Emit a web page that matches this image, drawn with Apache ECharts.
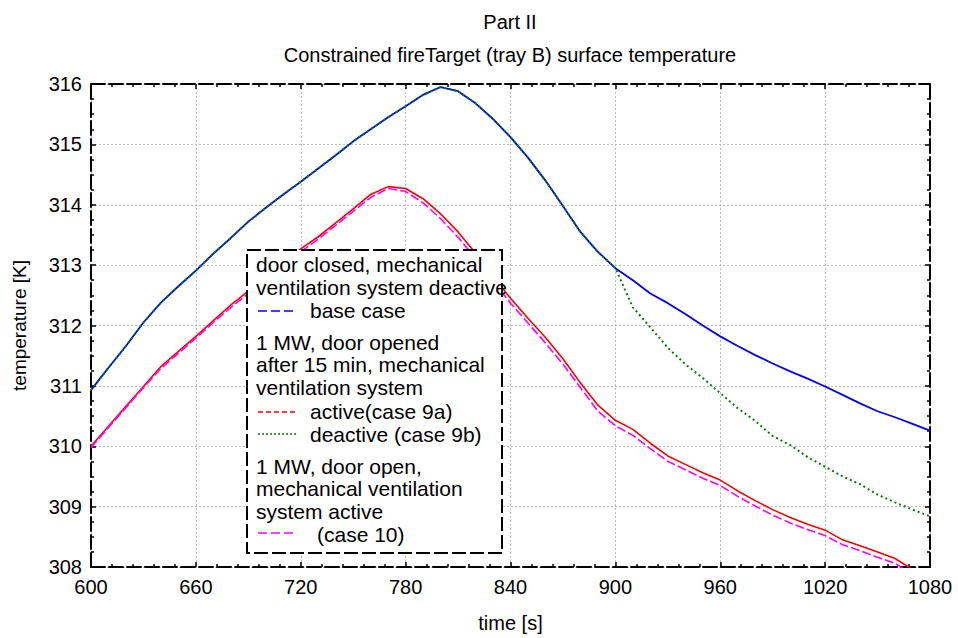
<!DOCTYPE html>
<html lang="en">
<head>
  <meta charset="UTF-8">
  <title>Constrained fireTarget surface temperature</title>
  <style>
    html, body { margin: 0; padding: 0; background: #fff; }
    #main { width: 958px; height: 638px; }
  </style>
</head>
<body>
<div id="main"></div>
<script src="https://cdn.jsdelivr.net/npm/echarts@6/dist/echarts.min.js"></script>
<script>
  // time axis shared by all curves [s]
  var timeSec = [600, 610, 620, 630, 640, 650, 660, 670, 680, 690,
                 700, 710, 720, 730, 740, 750, 760, 770, 780, 790,
                 800, 810, 820, 830, 840, 850, 860, 870, 880, 890,
                 900, 910, 920, 930, 940, 950, 960, 970, 980, 990,
                 1000, 1010, 1020, 1030, 1040, 1050, 1060, 1070, 1080];

  // base case: door closed, ventilation deactive
  var tempBase = [310.93, 311.30, 311.66, 312.05, 312.38, 312.65, 312.91, 313.19, 313.45, 313.72,
                  313.95, 314.17, 314.38, 314.60, 314.82, 315.05, 315.25, 315.45, 315.63, 315.82,
                  315.95, 315.88, 315.68, 315.42, 315.12, 314.78, 314.40, 313.98, 313.55, 313.22,
                  312.95, 312.75, 312.53, 312.37, 312.19, 312.00, 311.82, 311.66, 311.51, 311.37,
                  311.24, 311.12, 310.99, 310.85, 310.71, 310.58, 310.48, 310.37, 310.26];

  // case 9a: door opened after 15 min, ventilation active
  var temp9a = [310.00, 310.33, 310.66, 310.99, 311.32, 311.57, 311.82, 312.08, 312.34, 312.57,
                312.80, 313.03, 313.27, 313.47, 313.70, 313.93, 314.17, 314.30, 314.27, 314.10,
                313.85, 313.55, 313.20, 312.82, 312.45, 312.12, 311.80, 311.45, 311.05, 310.68,
                310.43, 310.28, 310.05, 309.84, 309.70, 309.56, 309.44, 309.26, 309.10, 308.95,
                308.82, 308.71, 308.61, 308.45, 308.35, 308.25, 308.14, 307.96, 307.80];

  // case 9b: door opened after 15 min, ventilation deactive
  var temp9b = [310.93, 311.30, 311.66, 312.05, 312.38, 312.65, 312.91, 313.19, 313.45, 313.72,
                313.95, 314.17, 314.38, 314.60, 314.82, 315.05, 315.25, 315.45, 315.63, 315.82,
                315.95, 315.88, 315.68, 315.42, 315.12, 314.78, 314.40, 313.98, 313.55, 313.22,
                312.95, 312.30, 311.97, 311.63, 311.36, 311.13, 310.88, 310.63, 310.42, 310.17,
                310.02, 309.82, 309.66, 309.50, 309.37, 309.20, 309.07, 308.95, 308.84];

  // case 10: door open, ventilation active
  var temp10 = [309.98, 310.31, 310.64, 310.97, 311.29, 311.54, 311.79, 312.05, 312.30, 312.53,
                312.76, 312.99, 313.22, 313.43, 313.66, 313.89, 314.12, 314.27, 314.22, 314.03,
                313.77, 313.46, 313.11, 312.73, 312.37, 312.04, 311.71, 311.36, 310.97, 310.58,
                310.34, 310.18, 309.96, 309.75, 309.61, 309.47, 309.35, 309.17, 309.01, 308.86,
                308.73, 308.62, 308.52, 308.37, 308.27, 308.16, 308.06, 307.88, 307.72];

  var legendLines = [
    'door closed, mechanical',
    'ventilation system deactive',
    'base case',
    '1 MW, door opened',
    'after 15 min, mechanical',
    'ventilation system',
    'active(case 9a)',
    'deactive (case 9b)',
    '1 MW, door open,',
    'mechanical ventilation',
    'system active',
    '(case 10)'
  ];

  var FONT = '"Liberation Sans", Arial, Helvetica, sans-serif';

  function pairs(xs, ys) {
    return xs.map(function (x, i) { return [x, ys[i]]; });
  }
  function plain(v) { return String(v); }

  var chart = echarts.init(document.getElementById('main'), null, { renderer: 'svg' });

  var frameLine = { show: true, lineStyle: { color: '#000', width: 2, type: [14, 4] } };
  var tick = { show: true, inside: true, length: 5, lineStyle: { color: '#000', width: 1.5 } };
  var minor = { show: true, length: 3, lineStyle: { color: '#000', width: 1.5 } };
  var grid = { show: true, lineStyle: { color: '#bdbdbd', width: 1, type: [2, 2] } };

  // legend box drawn by hand (it has group headings)
  var lx = 256;
  var baselines = [275, 298, 321, 353, 375, 398, 422, 445, 477, 499, 522, 545];
  var textX = [lx, lx, 310, lx, lx, lx, 310, 310, lx, lx, lx, 317];
  var legendGraphic = [{
    type: 'rect', z: 100,
    shape: { x: 247, y: 250, width: 255, height: 303 },
    style: { fill: '#fff', stroke: '#000', lineWidth: 2, lineDash: [14, 4] }
  }];
  legendLines.forEach(function (t, i) {
    legendGraphic.push({
      type: 'text', z: 101, x: textX[i], y: baselines[i],
      style: { text: t, fill: '#000', font: '21px ' + FONT, textVerticalAlign: 'bottom', verticalAlign: 'alphabetic' }
    });
  });
  var samples = [
    { y: 311, color: '#0000ff', dash: [9, 4] },
    { y: 412, color: '#ff0000', dash: [5, 3] },
    { y: 434, color: '#008000', dash: [2, 2] },
    { y: 533, color: '#ff00ff', dash: [9, 4] }
  ];
  samples.forEach(function (s) {
    legendGraphic.push({
      type: 'line', z: 101,
      shape: { x1: 258, y1: s.y, x2: 297, y2: s.y },
      style: { stroke: s.color, lineWidth: 1.5, lineDash: s.dash }
    });
  });

  var option = {
    backgroundColor: '#fff',
    animation: false,
    textStyle: { fontFamily: FONT },
    title: [
      { text: 'Part II', left: 505, top: 7, textAlign: 'center',
        textStyle: { fontSize: 20, fontWeight: 'normal', color: '#000', fontFamily: FONT } },
      { text: 'Constrained fireTarget (tray B) surface temperature', left: 505, top: 40, textAlign: 'center',
        textStyle: { fontSize: 20, fontWeight: 'normal', color: '#000', fontFamily: FONT } }
    ],
    grid: { left: 91, right: 28, top: 84, bottom: 71, containLabel: false },
    xAxis: [{
      type: 'value', min: 600, max: 1080, interval: 60, position: 'bottom',
      name: 'time [s]', nameLocation: 'middle', nameGap: 46,
      nameTextStyle: { fontSize: 20, color: '#000', fontFamily: FONT },
      axisLine: frameLine, axisTick: tick, minorTick: Object.assign({ splitNumber: 5 }, minor),
      splitLine: grid,
      axisLabel: { fontSize: 20, color: '#000', margin: 10, fontFamily: FONT, formatter: plain }
    }, {
      type: 'value', min: 600, max: 1080, interval: 60, position: 'top',
      axisLine: frameLine, axisTick: tick, minorTick: Object.assign({ splitNumber: 5 }, minor),
      splitLine: { show: false }, axisLabel: { show: false }
    }],
    yAxis: [{
      type: 'value', min: 308, max: 316, interval: 1, position: 'left',
      name: 'temperature [K]', nameLocation: 'middle', nameGap: 62,
      nameTextStyle: { fontSize: 19, color: '#000', fontFamily: FONT },
      axisLine: frameLine, axisTick: tick, minorTick: Object.assign({ splitNumber: 4 }, minor),
      splitLine: grid,
      axisLabel: { fontSize: 20, color: '#000', margin: 9, fontFamily: FONT, formatter: plain }
    }, {
      type: 'value', min: 308, max: 316, interval: 1, position: 'right',
      axisLine: frameLine, axisTick: tick, minorTick: Object.assign({ splitNumber: 4 }, minor),
      splitLine: { show: false }, axisLabel: { show: false }
    }],
    series: [
      { name: 'base case', type: 'line', data: pairs(timeSec, tempBase), showSymbol: false,
        lineStyle: { color: '#0000ff', width: 1.8 }, z: 3 },
      { name: 'active(case 9a)', type: 'line', data: pairs(timeSec, temp9a), showSymbol: false,
        lineStyle: { color: '#ff0000', width: 1.6 }, z: 2 },
      { name: 'deactive (case 9b)', type: 'line', data: pairs(timeSec, temp9b), showSymbol: false,
        lineStyle: { color: '#008000', width: 2, type: [2, 3] }, z: 4 },
      { name: '(case 10)', type: 'line', data: pairs(timeSec, temp10), showSymbol: false,
        lineStyle: { color: '#ff00ff', width: 1.6, type: [9, 3] }, z: 3 }
    ],
    graphic: legendGraphic
  };

  chart.setOption(option);
</script>
</body>
</html>
